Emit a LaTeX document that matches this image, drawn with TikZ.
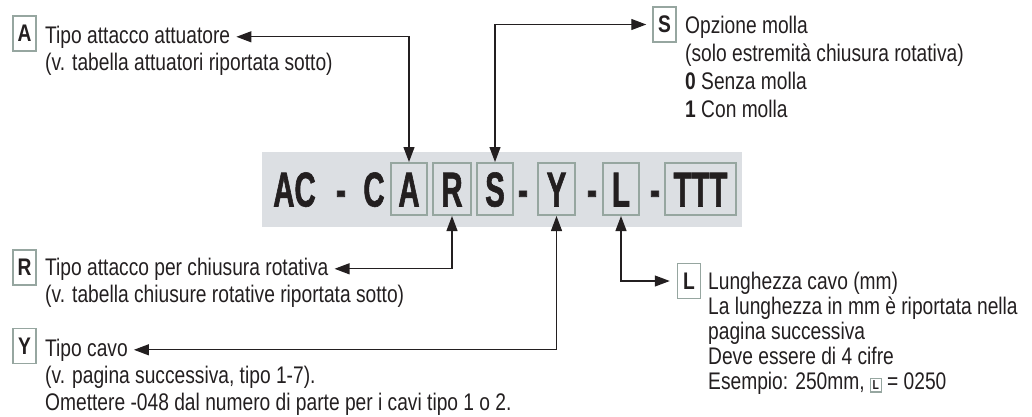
\documentclass[tikz,border=0pt]{standalone}
\usepackage{fontspec}
\setmainfont{Liberation Sans}[FakeStretch=0.8]
\newfontfamily\codefont{Liberation Sans}[FakeStretch=0.6, BoldFeatures={FakeBold=1.2}]
\usetikzlibrary{arrows.meta, positioning}
\definecolor{bandgray}{RGB}{220,223,227}
\definecolor{keygray}{RGB}{150,166,160}
\definecolor{inkblack}{RGB}{35,31,32}
\newcommand{\smallkey}[1]{{\setlength{\fboxsep}{1.5pt}\setlength{\fboxrule}{1.2pt}\fcolorbox{keygray}{white}{\fontsize{13}{13}\selectfont\bfseries #1}}}
\newcommand{\textlines}[1]{\begin{tabular}[t]{@{}l@{}}#1\end{tabular}}
\tikzset{
    band/.style     = {fill=bandgray, minimum width=480pt, minimum height=75pt, inner sep=0pt},
    codetext/.style = {inner sep=0pt, text height=35pt, text depth=0pt, font=\codefont\fontsize{49}{50}\selectfont\bfseries},
    codebox/.style  = {codetext, draw=keygray, line width=2pt, minimum width=36pt, minimum height=52pt},
    keybox/.style   = {draw=keygray, line width=1.5pt, fill=white, minimum width=23pt, minimum height=35pt, inner sep=0pt, font=\fontsize{24}{27}\selectfont\bfseries},
    title/.style    = {inner sep=0pt, anchor=base west, font=\fontsize{24}{27}\selectfont},
    note/.style     = {inner sep=0pt, anchor=base west, font=\fontsize{24}{27}\selectfont},
    link/.style     = {line width=1.2pt, {Triangle[length=15pt,width=11pt]}-{Triangle[length=15pt,width=11pt]}},
}

\begin{document}
\begin{tikzpicture}[x=1pt, y=-1pt, color=inkblack]
  \useasboundingbox (0,0) rectangle (1032,416);

  % code line
  \node [band] (code) at (502,189.5) {};
  \node [codetext] (cAC) at (294.5,189) {AC};
  \node [codetext] (d1)  at (341,189) {-};
  \node [codetext] (cC)  at (374,189) {C};
  \node [codebox] (cA) at (409,189) {A};
  \node [codebox, minimum width=38pt] (cR) at (452,189) {R};
  \node [codebox] (cS) at (495,189) {S};
  \node [codetext] (d2) at (523,189) {-};
  \node [codebox, minimum width=37pt] (cY) at (556.5,189) {Y};
  \node [codetext] (d3) at (592,189) {-};
  \node [codebox] (cL) at (621,189) {L};
  \node [codetext] (d4) at (655,189) {-};
  \node [codebox, minimum width=71pt] (cT) at (700.5,189) {TTT};

  % A
  \node [keybox] (kA) at (24.5,33.5) {A};
  \node [title] (tA) at (45,43) {Tipo attacco attuatore};
  \node [note]  (nA) at (45,70) {(v. tabella attuatori riportata sotto)};

  % S
  \node [keybox] (kS) at (664.5,24.5) {S};
  \node [title] (tS) at (685,33) {Opzione molla};
  \node [note, font=\fontsize{24}{28}\selectfont] (nS) at (685,61) {\textlines{(solo estremità chiusura rotativa)\\\textbf{0} Senza molla\\\textbf{1} Con molla}};

  % R
  \node [keybox] (kR) at (24.5,267.5) {R};
  \node [title] (tR) at (45,275) {Tipo attacco per chiusura rotativa};
  \node [note]  (nR) at (45,302) {(v. tabella chiusure rotative riportata sotto)};

  % Y
  \node [keybox] (kY) at (24.5,346) {Y};
  \node [title] (tY) at (45,356) {Tipo cavo};
  \node [note]  (nY) at (45,383) {\textlines{(v. pagina successiva, tipo 1-7).\\Omettere -048 dal numero di parte per i cavi tipo 1 o 2.}};

  % L
  \node [keybox] (kL) at (689,281) {L};
  \node [title] (tL) at (708,289) {Lunghezza cavo (mm)};
  \node [note, font=\fontsize{24}{25.3}\selectfont] (nL) at (708,314) {\textlines{La lunghezza in mm è riportata nella\\pagina successiva\\Deve essere di 4 cifre\\Esempio: 250mm, \smallkey{L} = 0250}};

  % connectors
  \draw [link] ([xshift=6pt]tA.east) -| (cA.north);
  \draw [link] ([xshift=-6pt]kS.west) -| (cS.north);
  \draw [link] ([xshift=6pt]tR.east) -| (cR.south);
  \draw [link] ([xshift=6pt]tY.east) -| (cY.south);
  \draw [link] ([xshift=-7pt]kL.west) -| (cL.south);
\end{tikzpicture}
\end{document}
